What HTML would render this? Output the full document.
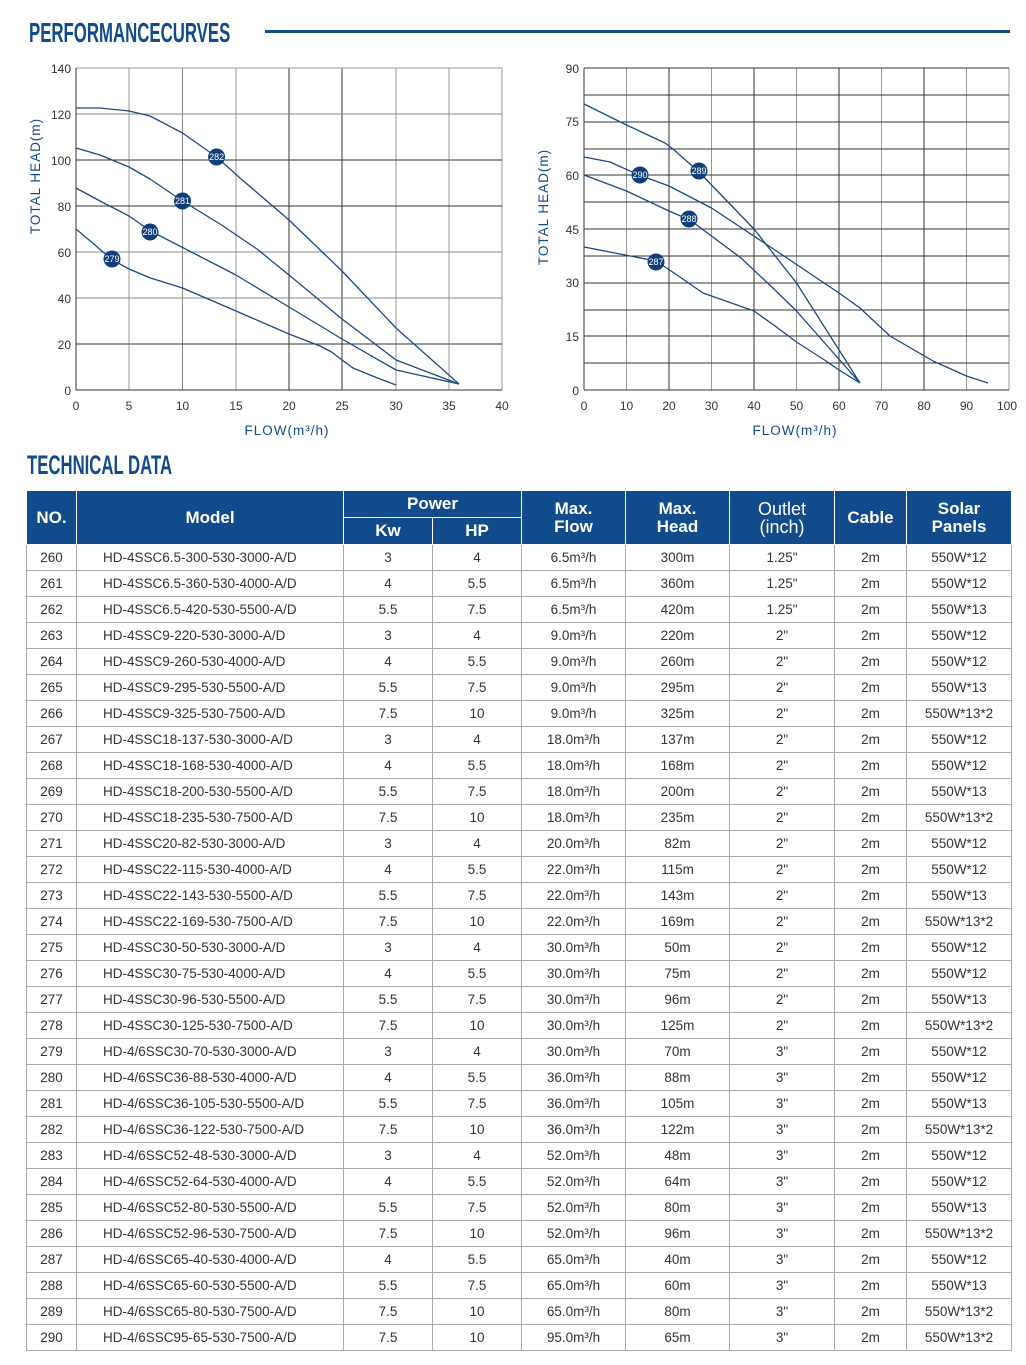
<!DOCTYPE html>
<html><head><meta charset="utf-8"><style>
body{margin:0;width:1026px;height:1365px;background:#fff;font-family:"Liberation Sans",sans-serif;position:relative;overflow:hidden}
.h{position:absolute;color:#124b8c;font-family:"Liberation Sans",sans-serif;font-weight:bold;transform-origin:left top;white-space:nowrap}
table{position:absolute;left:26px;top:490px;width:985px;border-collapse:collapse;table-layout:fixed}
th{background:#124b8c;color:#fff;font-weight:bold;font-size:17px;border:1px solid #fff;line-height:18px;padding:0}
td{height:25px;border:1px solid #aaa;border-top:1px solid #c8c8c8;text-align:center;font-size:13.5px;color:#333;padding:0}
td:nth-child(2){text-align:left;padding-left:26px}
svg text{font-family:"Liberation Sans",sans-serif}
</style></head><body>
<div class="h" style="left:29px;top:17px;font-size:28px;transform:scaleX(0.6)">PERFORMANCECURVES</div>
<div style="position:absolute;left:265px;top:30px;width:745px;height:3px;background:#124b8c"></div>
<div class="h" style="left:27px;top:450px;font-size:27px;transform:scaleX(0.62)">TECHNICAL DATA</div>
<svg width="1026" height="440" style="position:absolute;left:0;top:0">
<g stroke-width="1">
<line x1="129" y1="68" x2="129" y2="390" stroke="#999"/><line x1="182.5" y1="68" x2="182.5" y2="390" stroke="#888"/>
<line x1="236" y1="68" x2="236" y2="390" stroke="#999"/><line x1="289" y1="68" x2="289" y2="390" stroke="#333"/>
<line x1="342" y1="68" x2="342" y2="390" stroke="#333"/><line x1="396" y1="68" x2="396" y2="390" stroke="#999"/>
<line x1="449" y1="68" x2="449" y2="390" stroke="#999"/><line x1="502" y1="68" x2="502" y2="390" stroke="#999"/>
<line x1="76" y1="114" x2="502" y2="114" stroke="#888"/><line x1="76" y1="160" x2="502" y2="160" stroke="#333"/>
<line x1="76" y1="206" x2="502" y2="206" stroke="#333"/><line x1="76" y1="252" x2="502" y2="252" stroke="#888"/>
<line x1="76" y1="298" x2="502" y2="298" stroke="#888"/><line x1="76" y1="344" x2="502" y2="344" stroke="#333"/>
<line x1="76" y1="68" x2="502" y2="68" stroke="#999"/>
<line x1="76" y1="68" x2="76" y2="390" stroke="#333"/><line x1="76" y1="390" x2="502" y2="390" stroke="#333"/>
</g>
<g font-size="12" fill="#333" text-anchor="end">
<text x="71" y="73">140</text><text x="71" y="119">120</text><text x="71" y="165">100</text><text x="71" y="211">80</text><text x="71" y="257">60</text><text x="71" y="303">40</text><text x="71" y="349">20</text><text x="71" y="395">0</text>
</g>
<g font-size="12" fill="#333" text-anchor="middle">
<text x="76" y="410">0</text><text x="129" y="410">5</text><text x="182.5" y="410">10</text><text x="236" y="410">15</text><text x="289" y="410">20</text><text x="342" y="410">25</text><text x="396" y="410">30</text><text x="449" y="410">35</text><text x="502" y="410">40</text>
</g>
<text x="287" y="435" font-size="13.5" fill="#124b8c" text-anchor="middle" letter-spacing="1">FLOW(m³/h)</text>
<text transform="translate(40,176) rotate(-90)" font-size="13.5" fill="#124b8c" text-anchor="middle" letter-spacing="1">TOTAL HEAD(m)</text>
<g fill="none" stroke="#1a4a80" stroke-width="1.3" stroke-linejoin="round">
<polyline points="76,108 100,108 129,111 150,116 182.5,133 216.6,157 240,178 289,220 342,271 396,328 459,384"/>
<polyline points="76,148 100,155 129,167 150,179 182.5,201 220,224 257,249 289,275 342,319 396,360 459,384"/>
<polyline points="76,188 100,201 129,216 150.5,231 236,275 289,307 342,339 396,370 459,384"/>
<polyline points="76,229 95,245 111,259 129,269 150.5,278 182.5,288 236,311 289,334 320,346 331.6,352 342,360 353,368 375,377 396,385"/>
</g>
<g fill="#0f3f7a"><circle cx="216.6" cy="157" r="8.5"/><circle cx="182.5" cy="201" r="8.5"/><circle cx="150" cy="232" r="8.5"/><circle cx="112" cy="259" r="8.5"/></g>
<g font-size="9" fill="#fff" text-anchor="middle"><text x="216.6" y="160">282</text><text x="182.5" y="204">281</text><text x="150" y="235">280</text><text x="112" y="262">279</text></g>

<g stroke-width="1">
<line x1="626.5" y1="68" x2="626.5" y2="390" stroke="#999"/><line x1="669" y1="68" x2="669" y2="390" stroke="#333"/>
<line x1="711.5" y1="68" x2="711.5" y2="390" stroke="#999"/><line x1="754" y1="68" x2="754" y2="390" stroke="#333"/>
<line x1="796.5" y1="68" x2="796.5" y2="390" stroke="#999"/><line x1="839" y1="68" x2="839" y2="390" stroke="#333"/>
<line x1="881.5" y1="68" x2="881.5" y2="390" stroke="#999"/><line x1="924" y1="68" x2="924" y2="390" stroke="#333"/>
<line x1="966.5" y1="68" x2="966.5" y2="390" stroke="#999"/><line x1="1009" y1="68" x2="1009" y2="390" stroke="#999"/>
<line x1="584" y1="68" x2="1009" y2="68" stroke="#333"/><line x1="584" y1="95" x2="1009" y2="95" stroke="#333"/>
<line x1="584" y1="122" x2="1009" y2="122" stroke="#333"/><line x1="584" y1="149" x2="1009" y2="149" stroke="#333"/>
<line x1="584" y1="175" x2="1009" y2="175" stroke="#333"/><line x1="584" y1="202" x2="1009" y2="202" stroke="#333"/>
<line x1="584" y1="229" x2="1009" y2="229" stroke="#333"/><line x1="584" y1="256" x2="1009" y2="256" stroke="#333"/>
<line x1="584" y1="283" x2="1009" y2="283" stroke="#333"/><line x1="584" y1="310" x2="1009" y2="310" stroke="#333"/>
<line x1="584" y1="336" x2="1009" y2="336" stroke="#333"/><line x1="584" y1="363" x2="1009" y2="363" stroke="#333"/>
<line x1="584" y1="68" x2="584" y2="390" stroke="#333"/><line x1="584" y1="390" x2="1009" y2="390" stroke="#333"/>
</g>
<g font-size="12" fill="#333" text-anchor="end">
<text x="579" y="73">90</text><text x="579" y="126">75</text><text x="579" y="180">60</text><text x="579" y="234">45</text><text x="579" y="287">30</text><text x="579" y="341">15</text><text x="579" y="395">0</text>
</g>
<g font-size="12" fill="#333" text-anchor="middle">
<text x="584" y="410">0</text><text x="626.5" y="410">10</text><text x="669" y="410">20</text><text x="711.5" y="410">30</text><text x="754" y="410">40</text><text x="796.5" y="410">50</text><text x="839" y="410">60</text><text x="881.5" y="410">70</text><text x="924" y="410">80</text><text x="966.5" y="410">90</text><text x="1007" y="410">100</text>
</g>
<text x="795" y="435" font-size="13.5" fill="#124b8c" text-anchor="middle" letter-spacing="1">FLOW(m³/h)</text>
<text transform="translate(548,207) rotate(-90)" font-size="13.5" fill="#124b8c" text-anchor="middle" letter-spacing="1">TOTAL HEAD(m)</text>
<g fill="none" stroke="#1a4a80" stroke-width="1.3" stroke-linejoin="round">
<polyline points="584,104 626.5,125 665,143 673,149 699,172 754,229 796.5,283 860,383"/>
<polyline points="584,157 610,162 639,175 669,186 711.5,208 775,250 839,293 860,308 890,336 933,361 966.5,376 988,383"/>
<polyline points="584,175 626.5,191 669,211 690,220 741,258 775,290 796.5,311 860,383"/>
<polyline points="584,247 656,261 677,275 703,293 754,311 775,326 796.5,342 826,361 839,370 860,383"/>
</g>
<g fill="#0f3f7a"><circle cx="699" cy="171" r="8.5"/><circle cx="640" cy="175" r="8.5"/><circle cx="689" cy="219" r="8.5"/><circle cx="656" cy="262" r="8.5"/></g>
<g font-size="9" fill="#fff" text-anchor="middle"><text x="699" y="174">289</text><text x="640" y="178">290</text><text x="689" y="222">288</text><text x="656" y="265">287</text></g>
</svg>

<table>
<colgroup><col style="width:50px"><col style="width:267px"><col style="width:89px"><col style="width:89px"><col style="width:104px"><col style="width:104px"><col style="width:105px"><col style="width:72px"><col style="width:105px"></colgroup>
<tr><th rowspan="2" style="height:53px">NO.</th><th rowspan="2">Model</th><th colspan="2" style="height:26px">Power</th><th rowspan="2">Max.<br>Flow</th><th rowspan="2">Max.<br>Head</th><th rowspan="2" style="font-weight:normal;font-size:18px">Outlet<br>(inch)</th><th rowspan="2">Cable</th><th rowspan="2">Solar<br>Panels</th></tr>
<tr><th style="height:26px">Kw</th><th>HP</th></tr>
<tr><td>260</td><td>HD-4SSC6.5-300-530-3000-A/D</td><td>3</td><td>4</td><td>6.5m³/h</td><td>300m</td><td>1.25"</td><td>2m</td><td>550W*12</td></tr>
<tr><td>261</td><td>HD-4SSC6.5-360-530-4000-A/D</td><td>4</td><td>5.5</td><td>6.5m³/h</td><td>360m</td><td>1.25"</td><td>2m</td><td>550W*12</td></tr>
<tr><td>262</td><td>HD-4SSC6.5-420-530-5500-A/D</td><td>5.5</td><td>7.5</td><td>6.5m³/h</td><td>420m</td><td>1.25"</td><td>2m</td><td>550W*13</td></tr>
<tr><td>263</td><td>HD-4SSC9-220-530-3000-A/D</td><td>3</td><td>4</td><td>9.0m³/h</td><td>220m</td><td>2"</td><td>2m</td><td>550W*12</td></tr>
<tr><td>264</td><td>HD-4SSC9-260-530-4000-A/D</td><td>4</td><td>5.5</td><td>9.0m³/h</td><td>260m</td><td>2"</td><td>2m</td><td>550W*12</td></tr>
<tr><td>265</td><td>HD-4SSC9-295-530-5500-A/D</td><td>5.5</td><td>7.5</td><td>9.0m³/h</td><td>295m</td><td>2"</td><td>2m</td><td>550W*13</td></tr>
<tr><td>266</td><td>HD-4SSC9-325-530-7500-A/D</td><td>7.5</td><td>10</td><td>9.0m³/h</td><td>325m</td><td>2"</td><td>2m</td><td>550W*13*2</td></tr>
<tr><td>267</td><td>HD-4SSC18-137-530-3000-A/D</td><td>3</td><td>4</td><td>18.0m³/h</td><td>137m</td><td>2"</td><td>2m</td><td>550W*12</td></tr>
<tr><td>268</td><td>HD-4SSC18-168-530-4000-A/D</td><td>4</td><td>5.5</td><td>18.0m³/h</td><td>168m</td><td>2"</td><td>2m</td><td>550W*12</td></tr>
<tr><td>269</td><td>HD-4SSC18-200-530-5500-A/D</td><td>5.5</td><td>7.5</td><td>18.0m³/h</td><td>200m</td><td>2"</td><td>2m</td><td>550W*13</td></tr>
<tr><td>270</td><td>HD-4SSC18-235-530-7500-A/D</td><td>7.5</td><td>10</td><td>18.0m³/h</td><td>235m</td><td>2"</td><td>2m</td><td>550W*13*2</td></tr>
<tr><td>271</td><td>HD-4SSC20-82-530-3000-A/D</td><td>3</td><td>4</td><td>20.0m³/h</td><td>82m</td><td>2"</td><td>2m</td><td>550W*12</td></tr>
<tr><td>272</td><td>HD-4SSC22-115-530-4000-A/D</td><td>4</td><td>5.5</td><td>22.0m³/h</td><td>115m</td><td>2"</td><td>2m</td><td>550W*12</td></tr>
<tr><td>273</td><td>HD-4SSC22-143-530-5500-A/D</td><td>5.5</td><td>7.5</td><td>22.0m³/h</td><td>143m</td><td>2"</td><td>2m</td><td>550W*13</td></tr>
<tr><td>274</td><td>HD-4SSC22-169-530-7500-A/D</td><td>7.5</td><td>10</td><td>22.0m³/h</td><td>169m</td><td>2"</td><td>2m</td><td>550W*13*2</td></tr>
<tr><td>275</td><td>HD-4SSC30-50-530-3000-A/D</td><td>3</td><td>4</td><td>30.0m³/h</td><td>50m</td><td>2"</td><td>2m</td><td>550W*12</td></tr>
<tr><td>276</td><td>HD-4SSC30-75-530-4000-A/D</td><td>4</td><td>5.5</td><td>30.0m³/h</td><td>75m</td><td>2"</td><td>2m</td><td>550W*12</td></tr>
<tr><td>277</td><td>HD-4SSC30-96-530-5500-A/D</td><td>5.5</td><td>7.5</td><td>30.0m³/h</td><td>96m</td><td>2"</td><td>2m</td><td>550W*13</td></tr>
<tr><td>278</td><td>HD-4SSC30-125-530-7500-A/D</td><td>7.5</td><td>10</td><td>30.0m³/h</td><td>125m</td><td>2"</td><td>2m</td><td>550W*13*2</td></tr>
<tr><td>279</td><td>HD-4/6SSC30-70-530-3000-A/D</td><td>3</td><td>4</td><td>30.0m³/h</td><td>70m</td><td>3"</td><td>2m</td><td>550W*12</td></tr>
<tr><td>280</td><td>HD-4/6SSC36-88-530-4000-A/D</td><td>4</td><td>5.5</td><td>36.0m³/h</td><td>88m</td><td>3"</td><td>2m</td><td>550W*12</td></tr>
<tr><td>281</td><td>HD-4/6SSC36-105-530-5500-A/D</td><td>5.5</td><td>7.5</td><td>36.0m³/h</td><td>105m</td><td>3"</td><td>2m</td><td>550W*13</td></tr>
<tr><td>282</td><td>HD-4/6SSC36-122-530-7500-A/D</td><td>7.5</td><td>10</td><td>36.0m³/h</td><td>122m</td><td>3"</td><td>2m</td><td>550W*13*2</td></tr>
<tr><td>283</td><td>HD-4/6SSC52-48-530-3000-A/D</td><td>3</td><td>4</td><td>52.0m³/h</td><td>48m</td><td>3"</td><td>2m</td><td>550W*12</td></tr>
<tr><td>284</td><td>HD-4/6SSC52-64-530-4000-A/D</td><td>4</td><td>5.5</td><td>52.0m³/h</td><td>64m</td><td>3"</td><td>2m</td><td>550W*12</td></tr>
<tr><td>285</td><td>HD-4/6SSC52-80-530-5500-A/D</td><td>5.5</td><td>7.5</td><td>52.0m³/h</td><td>80m</td><td>3"</td><td>2m</td><td>550W*13</td></tr>
<tr><td>286</td><td>HD-4/6SSC52-96-530-7500-A/D</td><td>7.5</td><td>10</td><td>52.0m³/h</td><td>96m</td><td>3"</td><td>2m</td><td>550W*13*2</td></tr>
<tr><td>287</td><td>HD-4/6SSC65-40-530-4000-A/D</td><td>4</td><td>5.5</td><td>65.0m³/h</td><td>40m</td><td>3"</td><td>2m</td><td>550W*12</td></tr>
<tr><td>288</td><td>HD-4/6SSC65-60-530-5500-A/D</td><td>5.5</td><td>7.5</td><td>65.0m³/h</td><td>60m</td><td>3"</td><td>2m</td><td>550W*13</td></tr>
<tr><td>289</td><td>HD-4/6SSC65-80-530-7500-A/D</td><td>7.5</td><td>10</td><td>65.0m³/h</td><td>80m</td><td>3"</td><td>2m</td><td>550W*13*2</td></tr>
<tr><td>290</td><td>HD-4/6SSC95-65-530-7500-A/D</td><td>7.5</td><td>10</td><td>95.0m³/h</td><td>65m</td><td>3"</td><td>2m</td><td>550W*13*2</td></tr>
</table>
</body></html>
